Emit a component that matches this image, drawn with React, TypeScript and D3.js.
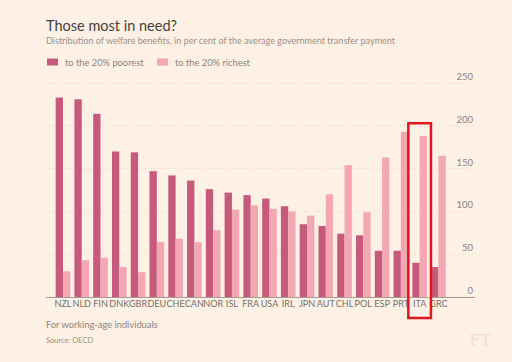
import React, { useRef, useEffect } from 'react';
import * as d3 from 'd3';

const countries = ['NZL', 'NLD', 'FIN', 'DNK', 'GBR', 'DEU', 'CHE', 'CAN', 'NOR', 'ISL', 'FRA', 'USA', 'IRL', 'JPN', 'AUT', 'CHL', 'POL', 'ESP', 'PRT', 'ITA', 'GRC'];
const poorest = [233, 231, 214, 170, 169, 147, 142, 136, 126, 122, 119, 115, 106, 85, 83, 74, 72, 54, 54, 40, 35];
const richest = [30, 43, 46, 35, 29, 64, 68, 64, 78, 102, 107, 103, 100, 95, 120, 154, 99, 163, 193, 188, 165];
const yTicks = [0, 50, 100, 150, 200, 250];
const highlighted = 'ITA';

const DARK = '#c65a7d';
const LIGHT = '#f3a7b5';

export default function App() {
  const svgRef = useRef<SVGSVGElement>(null);

  useEffect(() => {
    const width = 512;
    const height = 362;
    const svg = d3.select(svgRef.current)
      .attr('width', width)
      .attr('height', height);
    svg.selectAll('*').remove();

    const font = 'Lato, "Open Sans", sans-serif';

    svg.append('rect')
      .attr('width', width).attr('height', height)
      .attr('fill', '#fdf0e4');

    // titles
    svg.append('text')
      .attr('x', 46).attr('y', 31)
      .style('font-family', font).style('font-size', '14.5px')
      .style('fill', '#45403c')
      .text('Those most in need?');
    svg.append('text')
      .attr('x', 46).attr('y', 44)
      .style('font-family', font).style('font-size', '9.05px')
      .style('fill', '#9a918a')
      .text('Distribution of welfare benefits, in per cent of the average government transfer payment');

    // legend
    const legend = [
      { label: 'to the 20% poorest', color: DARK, x: 47 },
      { label: 'to the 20% richest', color: LIGHT, x: 157 },
    ];
    legend.forEach(l => {
      svg.append('rect')
        .attr('x', l.x).attr('y', 58.5).attr('width', 11).attr('height', 7)
        .attr('fill', l.color);
      svg.append('text')
        .attr('x', l.x + 18).attr('y', 65.5)
        .style('font-family', font).style('font-size', '9.3px')
        .style('fill', '#8c837c')
        .text(l.label);
    });

    // scales
    const x = d3.scaleBand()
      .domain(countries)
      .range([53.6, 447.8])
      .paddingInner(0.22)
      .paddingOuter(0.11);
    const sub = d3.scaleBand()
      .domain(['poorest', 'richest'])
      .range([0, x.bandwidth()]);
    const y = d3.scaleLinear()
      .domain([0, 250])
      .range([297, 83]);

    // grid
    const gridLeft = 46;
    const gridRight = 475;
    yTicks.forEach(t => {
      if (t > 0) {
        svg.append('line')
          .attr('x1', gridLeft).attr('x2', gridRight)
          .attr('y1', y(t)).attr('y2', y(t))
          .attr('stroke', '#e3d6cb')
          .attr('stroke-dasharray', '1,2')
          .attr('stroke-width', 1);
      }
      svg.append('text')
        .attr('x', 473).attr('y', y(t) - 3)
        .attr('text-anchor', 'end')
        .style('font-family', font).style('font-size', '9.5px')
        .style('fill', '#8c837c')
        .text(t);
    });

    // bars
    const g = svg.append('g');
    countries.forEach((c, i) => {
      g.append('rect')
        .attr('x', x(c)! + sub('poorest')!)
        .attr('y', y(poorest[i]))
        .attr('width', sub.bandwidth())
        .attr('height', y(0) - y(poorest[i]))
        .attr('fill', DARK);
      g.append('rect')
        .attr('x', x(c)! + sub('richest')!)
        .attr('y', y(richest[i]))
        .attr('width', sub.bandwidth())
        .attr('height', y(0) - y(richest[i]))
        .attr('fill', LIGHT);
    });

    // baseline
    svg.append('line')
      .attr('x1', gridLeft).attr('x2', gridRight)
      .attr('y1', y(0) + 0.5).attr('y2', y(0) + 0.5)
      .attr('stroke', '#a69c94')
      .attr('stroke-width', 1);

    // country labels
    svg.selectAll('.clabel')
      .data(countries)
      .enter()
      .append('text')
      .attr('class', 'clabel')
      .attr('x', d => x(d)! + x.bandwidth() / 2)
      .attr('y', 307)
      .attr('text-anchor', 'middle')
      .style('font-family', font).style('font-size', '9.1px')
      .style('fill', '#76706a')
      .text(d => d);

    // highlight box
    const hx = x(highlighted)!;
    svg.append('rect')
      .attr('x', hx - 4)
      .attr('y', y(203))
      .attr('width', x.bandwidth() + 8)
      .attr('height', 318 - y(203))
      .attr('fill', 'none')
      .attr('stroke', '#e0161f')
      .attr('stroke-width', 2.5);

    // footer
    svg.append('text')
      .attr('x', 46).attr('y', 328)
      .style('font-family', font).style('font-size', '9.3px')
      .style('fill', '#8c837c')
      .text('For working-age individuals');
    svg.append('text')
      .attr('x', 46).attr('y', 343)
      .style('font-family', font).style('font-size', '7.5px')
      .style('fill', '#9a918a')
      .text('Source: OECD');
    svg.append('text')
      .attr('x', 491).attr('y', 346)
      .attr('text-anchor', 'end')
      .style('font-family', '"DejaVu Serif", "Liberation Serif", serif')
      .style('font-size', '16px')
      .style('fill', '#efe0d3')
      .text('FT');
  }, []);

  return (
    <div style={{ position: 'absolute', left: 0, top: 0 }}>
      <svg ref={svgRef}></svg>
    </div>
  );
}
